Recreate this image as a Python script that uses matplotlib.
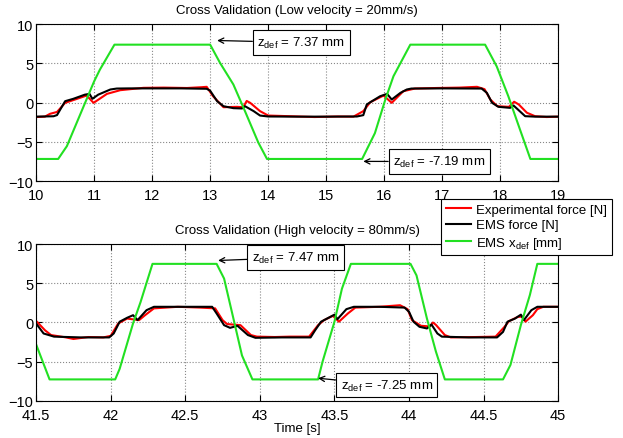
import matplotlib
matplotlib.use("Agg")
import matplotlib.pyplot as plt

plt.rcParams['font.family'] = ['Liberation Sans', 'DejaVu Sans']
plt.rcParams['mathtext.default'] = 'regular'

# ---------------- Low velocity (top) ----------------
low_t_exp = [10.0, 10.15, 10.24, 10.36, 10.5, 10.67, 10.87, 10.99, 11.1, 11.22, 11.45, 11.85,
             12.2, 12.6, 12.85, 12.94, 13.05, 13.23, 13.46, 13.57, 13.63, 13.69, 13.86, 14.0,
             14.4, 14.8, 15.2, 15.47, 15.64, 15.76, 15.99, 16.13, 16.33, 16.53, 16.9, 17.3,
             17.6, 17.73, 17.83, 17.95, 18.15, 18.24, 18.32, 18.46, 18.6, 18.8, 19.0]
low_exp = [-1.85, -1.8, -1.44, -1.2, -0.04, 0.38, 0.89, -0.04, 0.5, 1.1, 1.57, 1.87,
           1.9, 1.85, 1.95, 2.0, 0.8, -0.6, -0.55, -0.6, 0.2, -0.04, -1.1, -1.66,
           -1.75, -1.85, -1.78, -1.8, -1.1, 0.04, 0.89, -0.04, 1.44, 1.78, 1.85, 1.9,
           2.0, 1.7, 0.38, -0.47, -0.55, 0.1, -0.25, -1.3, -1.74, -1.85, -1.8]

low_t_ems = [10.0, 10.3, 10.36, 10.5, 10.64, 10.84, 10.92, 10.97, 11.07, 11.28, 11.39, 11.6,
             12.0, 12.5, 12.94, 13.0, 13.12, 13.23, 13.40, 13.55, 13.6, 13.75, 13.86, 14.0,
             14.5, 15.0, 15.53, 15.64, 15.70, 15.79, 15.93, 16.05, 16.13, 16.28, 16.39, 16.47,
             17.0, 17.68, 17.77, 17.86, 17.97, 18.17, 18.23, 18.43, 18.6, 19.0]
low_ems = [-1.8, -1.75, -1.6, 0.17, 0.47, 1.0, 1.1, 0.47, 1.0, 1.66, 1.78, 1.8,
           1.8, 1.8, 1.75, 1.5, 0.17, -0.47, -0.72, -0.76, -0.47, -1.1, -1.66, -1.78,
           -1.8, -1.8, -1.78, -1.61, -0.25, 0.17, 0.8, 1.1, 0.38, 1.23, 1.66, 1.78,
           1.8, 1.78, 1.23, -0.04, -0.55, -0.68, -0.38, -1.74, -1.8, -1.8]

low_t_def = [10.0, 10.38, 10.53, 11.0, 11.1, 11.35, 13.0, 13.17, 13.4, 13.6, 13.83, 13.98,
             15.62, 15.84, 16.02, 16.16, 16.45, 17.74, 17.94, 18.14, 18.32, 18.52, 19.0]
low_def = [-7.19, -7.19, -5.56, 2.7, 4.2, 7.37, 7.37, 5.05, 2.3, -1.1, -5.1, -7.19,
           -7.19, -3.9, 0.38, 3.35, 7.37, 7.37, 4.6, 0.8, -3.0, -7.19, -7.19]

# ---------------- High velocity (bottom) ----------------
high_t_exp = [41.5, 41.56, 41.6, 41.7, 41.75, 41.85, 41.95, 42.0, 42.05, 42.11, 42.19, 42.23,
              42.29, 42.45, 42.6, 42.7, 42.75, 42.78, 42.87, 42.94, 42.98, 43.1, 43.2, 43.33,
              43.39, 43.43, 43.49, 43.53, 43.59, 43.64, 43.8, 43.94, 43.99, 44.02, 44.08, 44.14,
              44.16, 44.18, 44.24, 44.28, 44.45, 44.58, 44.64, 44.67, 44.73, 44.76, 44.78, 44.83,
              44.86, 44.9, 45.0]
high_exp = [0.2, -1.0, -1.6, -1.9, -2.1, -1.85, -1.9, -1.7, -0.13, 0.5, 0.3, 0.93,
            1.8, 2.0, 1.9, 1.8, 0.3, -0.2, -0.34, -1.6, -1.8, -1.85, -1.8, -1.8,
            -0.34, 0.3, 0.85, 0.1, 1.15, 1.9, 2.0, 2.2, 1.7, 0.3, -0.42, -0.5,
            0.0, -0.3, -1.6, -1.9, -1.85, -1.8, -0.55, 0.17, 0.72, 0.75, 0.1, 0.93,
            1.7, 2.0, 2.0]

high_t_ems = [41.5, 41.55, 41.62, 41.8, 41.99, 42.02, 42.06, 42.11, 42.15, 42.18, 42.24, 42.29,
              42.5, 42.68, 42.71, 42.76, 42.8, 42.85, 42.92, 42.97, 43.15, 43.34, 43.37, 43.41,
              43.45, 43.5, 43.52, 43.58, 43.63, 43.8, 43.97, 44.0, 44.03, 44.07, 44.12, 44.15,
              44.19, 44.22, 44.4, 44.59, 44.63, 44.66, 44.71, 44.75, 44.77, 44.82, 44.86, 45.0]
high_ems = [-0.13, -1.4, -1.8, -1.9, -1.9, -1.4, 0.1, 0.6, 0.93, 0.3, 1.57, 2.0,
            2.0, 2.0, 1.15, -0.34, -0.68, -0.42, -1.6, -1.95, -1.9, -1.9, -1.0, 0.1,
            0.5, 1.0, 0.42, 1.7, 2.0, 2.0, 1.9, 1.36, 0.1, -0.55, -0.76, -0.25,
            -1.4, -1.8, -1.9, -1.9, -1.2, 0.1, 0.5, 1.0, 0.3, 1.57, 2.0, 2.0]

high_t_def = [41.5, 41.59, 42.03, 42.06, 42.15, 42.2, 42.28, 42.71, 42.76, 42.83, 42.88, 42.95,
              43.39, 43.42, 43.5, 43.55, 43.61, 44.01, 44.05, 44.12, 44.18, 44.24, 44.63, 44.68,
              44.75, 44.81, 44.86, 45.0]
high_def = [-2.8, -7.25, -7.25, -5.9, -0.1, 2.6, 7.47, 7.47, 5.6, -0.1, -4.2, -7.25,
            -7.25, -5.0, 0.1, 4.3, 7.47, 7.47, 6.0, 0.5, -3.7, -7.25, -7.25, -5.4,
            -0.3, 3.5, 7.47, 7.47]

top_xticks = [10, 11, 12, 13, 14, 15, 16, 17, 18, 19]
bot_xticks = [41.5, 42, 42.5, 43, 43.5, 44, 44.5, 45]
bot_xlabels = ['41.5', '42', '42.5', '43', '43.5', '44', '44.5', '45']
yticks = [-10, -5, 0, 5, 10]

labels = ['Experimental force [N]', 'EMS force [N]', 'EMS x$_{def}$ [mm]']
c_exp, c_ems, c_def = '#ff0000', '#000000', '#22e022'

fig = plt.figure(figsize=(6.23, 4.39), dpi=100)
ax1 = fig.add_axes([0.058, 0.5854, 0.838, 0.3576])
ax2 = fig.add_axes([0.058, 0.0843, 0.838, 0.3576])


def style(ax, xlim, xticks, xlabels=None):
    ax.set_xlim(*xlim)
    ax.set_ylim(-10, 10)
    ax.set_xticks(xticks)
    if xlabels is not None:
        ax.set_xticklabels(xlabels)
    ax.set_yticks(yticks)
    ax.grid(True, linestyle=':', color='#888888', linewidth=0.8)
    ax.tick_params(direction='in', top=True, right=True, labelsize=10.5, length=4, pad=2)
    ax.tick_params(axis='x', pad=5)
    for s in ax.spines.values():
        s.set_linewidth(0.8)


ax1.plot(low_t_exp, low_exp, color=c_exp, lw=1.5, label=labels[0])
ax1.plot(low_t_ems, low_ems, color=c_ems, lw=1.5, label=labels[1])
ax1.plot(low_t_def, low_def, color=c_def, lw=1.5, label=labels[2])
style(ax1, (10, 19), top_xticks)
ax1.set_title('Cross Validation (Low velocity = 20mm/s)', fontsize=9.5, pad=8)

ax2.plot(high_t_exp, high_exp, color=c_exp, lw=1.5, label=labels[0])
ax2.plot(high_t_ems, high_ems, color=c_ems, lw=1.5, label=labels[1])
ax2.plot(high_t_def, high_def, color=c_def, lw=1.5, label=labels[2])
style(ax2, (41.5, 45), bot_xticks, bot_xlabels)
ax2.set_title('Cross Validation (High velocity = 80mm/s)', fontsize=9.5, pad=8)
ax2.set_xlabel('Time [s]', fontsize=9.5, labelpad=0)

box = dict(boxstyle='square,pad=0.35', fc='white', ec='black', lw=0.8)
arrow = dict(arrowstyle='->', color='black', lw=0.9, shrinkA=0, shrinkB=0)
fs_ann = 9.5
ax1.annotate('z$_{def}$ = 7.37 mm', xy=(13.12, 7.9), xytext=(14.57, 7.64),
             ha='center', va='center', fontsize=fs_ann, bbox=box, arrowprops=arrow)
ax1.annotate('z$_{def}$ = -7.19 mm', xy=(15.64, -7.5), xytext=(16.95, -7.52),
             ha='center', va='center', fontsize=fs_ann, bbox=box, arrowprops=arrow)
ax2.annotate('z$_{def}$ = 7.47 mm', xy=(42.72, 7.9), xytext=(43.24, 8.28),
             ha='center', va='center', fontsize=fs_ann, bbox=box, arrowprops=arrow)
ax2.annotate('z$_{def}$ = -7.25 mm', xy=(43.39, -7.1), xytext=(43.85, -7.96),
             ha='center', va='center', fontsize=fs_ann, bbox=box, arrowprops=arrow)

h, l = ax2.get_legend_handles_labels()
leg = fig.legend(h, l, loc='upper right', bbox_to_anchor=(0.982, 0.5444), fontsize=9.5,
                 frameon=True, fancybox=False, edgecolor='black', framealpha=1,
                 handlelength=1.9, borderpad=0.35, labelspacing=0.25, handletextpad=0.4,
                 borderaxespad=0)
leg.get_frame().set_linewidth(0.8)

fig.savefig('out.png', dpi=100)
